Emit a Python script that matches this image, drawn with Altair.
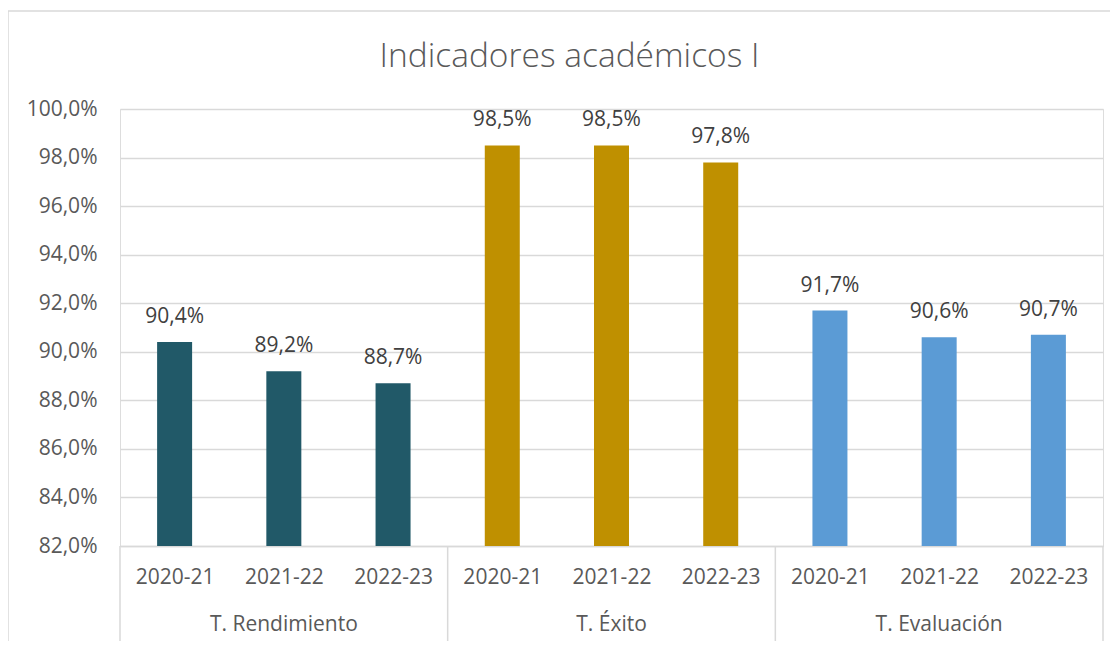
import altair as alt
import pandas as pd

groups = ["T. Rendimiento", "T. Éxito", "T. Evaluación"]
years = ["2020-21", "2021-22", "2022-23"]
values_rend = [90.4, 89.2, 88.7]
values_exito = [98.5, 98.5, 97.8]
values_eval = [91.7, 90.6, 90.7]
colors = ["#215968", "#BF9000", "#5B9BD5"]
y_ticks = [82, 84, 86, 88, 90, 92, 94, 96, 98, 100]
title_text = "Indicadores académicos I"

FONT = "Open Sans"
GRID = "#D9D9D9"
TXT = "#595959"

series = [values_rend, values_exito, values_eval]
rows = []
for gi, g in enumerate(groups):
    for yi, yr in enumerate(years):
        rows.append({"group": g, "year": yr, "idx": gi * len(years) + yi, "value": series[gi][yi]})
df = pd.DataFrame(rows)

grp_rows = [{"group": g, "mid": gi * len(years) + (len(years) - 1) / 2} for gi, g in enumerate(groups)]
sep_rows = [{"pos": gi * len(years) - 0.5} for gi in range(len(groups) + 1)]

n = len(groups) * len(years)
W, H = 983, 437

year_expr = "[" + ",".join("'%s'" % y for y in years) + "][datum.value % 3]"
pct_expr = "replace(format(datum.value, '.1f'), '.', ',') + '%'"

xscale = alt.Scale(domain=[-0.5, n - 0.5], nice=False, zero=False, padding=0)
yscale = alt.Scale(domain=[y_ticks[0], y_ticks[-1]], nice=False, zero=False)

x_enc = alt.X(
    "idx:Q",
    scale=xscale,
    axis=alt.Axis(
        values=list(range(n)), labelExpr=year_expr, title=None, grid=False,
        ticks=False, tickSize=0, labelPadding=31, labelBaseline="middle",
        labelFont=FONT, labelFontSize=21, labelColor=TXT, labelFlush=False,
        labelOverlap=False, labelBound=False,
        domainColor=GRID, domainWidth=1.5,
    ),
)
y_enc = alt.Y(
    "value:Q",
    scale=yscale,
    axis=alt.Axis(
        values=y_ticks, labelExpr=pct_expr, title=None, ticks=False, tickSize=0,
        domain=False, labelPadding=23, labelFont=FONT, labelFontSize=21,
        labelColor=TXT, gridColor=GRID, gridWidth=1.5,
    ),
)

base = alt.Chart(df)

bars = base.mark_bar(size=35).encode(
    x=x_enc,
    y=y_enc,
    y2=alt.datum(y_ticks[0]),
    color=alt.Color("group:N", scale=alt.Scale(domain=groups, range=colors), legend=None),
)

labels = base.transform_calculate(
    lab="replace(format(datum.value, '.1f'), '.', ',') + '%'"
).mark_text(
    font=FONT, fontSize=21, color="#404040", baseline="alphabetic", dy=-19
).encode(
    x=alt.X("idx:Q", scale=xscale),
    y=alt.Y("value:Q", scale=yscale),
    text="lab:N",
)

group_labels = alt.Chart(pd.DataFrame(grp_rows)).mark_text(
    font=FONT, fontSize=21, color=TXT, baseline="middle"
).encode(
    x=alt.X("mid:Q", scale=xscale),
    y=alt.value(516),
    text="group:N",
)

seps = alt.Chart(pd.DataFrame(sep_rows)).mark_rule(color=GRID, strokeWidth=1.5).encode(
    x=alt.X("pos:Q", scale=xscale),
    y=alt.value(H),
    y2=alt.value(H + 95),
)

frame = alt.Chart(alt.Data(values=[{"k": 1}])).mark_rect(
    fillOpacity=0, stroke=GRID, strokeWidth=1.5
).encode(
    x=alt.value(-112), x2=alt.value(W + 100),
    y=alt.value(-98), y2=alt.value(H + 200),
)

chart = alt.layer(frame, bars, labels, group_labels, seps).properties(
    width=W,
    height=H,
    title=alt.TitleParams(
        title_text, font=FONT, fontSize=33.5, fontWeight=300, color=TXT,
        anchor="middle", frame="group", offset=0, baseline="alphabetic",
        dx=-42, dy=90,
    ),
    autosize=alt.AutoSizeParams(type="none"),
    padding={"left": 112, "top": 101, "right": 7, "bottom": 95},
).configure_view(stroke=None).configure(background="white")

chart.save("out.html", embed_options={"renderer": "svg", "actions": False})
